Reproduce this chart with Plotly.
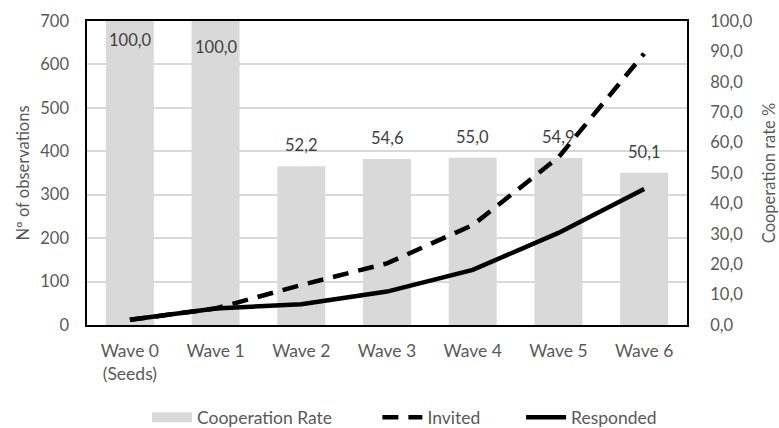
import plotly.graph_objects as go

# Snowball sample by wave
waves = ["Wave 0<br>(Seeds)", "Wave 1", "Wave 2", "Wave 3", "Wave 4", "Wave 5", "Wave 6"]
cooperation_rate = [100.0, 100.0, 52.2, 54.6, 55.0, 54.9, 50.1]
invited = [12, 38, 92, 142, 230, 386, 625]
responded = [12, 38, 48, 77, 127, 212, 313]

# vertical nudge (px) of each value label relative to its bar top
label_shift = [-7, -14, 9, 9, 9, 9, 9]

obs_ticks = list(range(0, 701, 100))
rate_ticks = list(range(0, 101, 10))

font_family = "Lato, 'Open Sans', sans-serif"
text_grey = "#595959"
label_grey = "#404040"
bar_grey = "#d9d9d9"
nbsp = "\u00a0"

fig = go.Figure()

# Cooperation rate bars (right axis, drawn beneath the lines)
fig.add_trace(go.Bar(
    x=waves, y=cooperation_rate, name="Cooperation Rate",
    marker=dict(color=bar_grey, line=dict(width=0)),
    showlegend=False, yaxis="y",
))
# wide swatch for the bar series in the legend
fig.add_trace(go.Scatter(
    x=[None], y=[None], name="Cooperation Rate" + nbsp * 9, mode="lines",
    line=dict(color=bar_grey, width=12), yaxis="y",
))

# Observation counts (left axis)
fig.add_trace(go.Scatter(
    x=waves, y=invited, name="Invited" + nbsp * 8, mode="lines",
    line=dict(color="black", width=4.5, dash="16px,10px"),
    yaxis="y2",
))
fig.add_trace(go.Scatter(
    x=waves, y=responded, name="Responded", mode="lines",
    line=dict(color="black", width=4.5),
    yaxis="y2",
))

# value labels on the bars
for w, v, s in zip(waves, cooperation_rate, label_shift):
    inside = s < 0
    fig.add_annotation(
        x=w, y=v, xref="x", yref="y",
        text=f"{v:.1f}".replace(".", ","),
        showarrow=False,
        yanchor="top" if inside else "bottom",
        yshift=s,
        font=dict(size=16.5, color=label_grey, family=font_family),
    )

fig.update_layout(
    width=779, height=428,
    margin=dict(l=87, r=92, t=21, b=103),
    paper_bgcolor="white", plot_bgcolor="white",
    font=dict(family=font_family, size=17, color=text_grey),
    separators=", ",
    bargap=0.44,
    showlegend=True,
    legend=dict(orientation="h", xref="container", yref="container",
                x=147 / 779, xanchor="left", y=0.025, yanchor="middle",
                font=dict(size=17.5, color=text_grey), itemwidth=40,
                bgcolor="rgba(0,0,0,0)"),
    xaxis=dict(
        showline=True, linecolor="black", linewidth=2, mirror=True,
        ticks="", ticklabelstandoff=9, automargin=False,
        tickfont=dict(size=17.5, color=text_grey),
    ),
    yaxis=dict(
        side="right", range=[0, 100], tickvals=rate_ticks, tickformat=".1f",
        showgrid=False, zeroline=False, automargin=False,
        showline=True, linecolor="black", linewidth=2, mirror=True,
        ticks="", ticklabelstandoff=18,
        tickfont=dict(size=16.5, color=text_grey),
        title=dict(text="Cooperation rate %", font=dict(size=16.5, color=text_grey), standoff=12),
    ),
    yaxis2=dict(
        overlaying="y", side="left", range=[0, 700], tickvals=obs_ticks,
        showgrid=True, gridcolor=bar_grey, gridwidth=2, zeroline=False,
        automargin=False, ticks="", ticklabelstandoff=17,
        tickfont=dict(size=16.5, color=text_grey),
        title=dict(text="Nº of observations", font=dict(size=16.5, color=text_grey), standoff=6),
    ),
)

fig.write_html("out.html")
